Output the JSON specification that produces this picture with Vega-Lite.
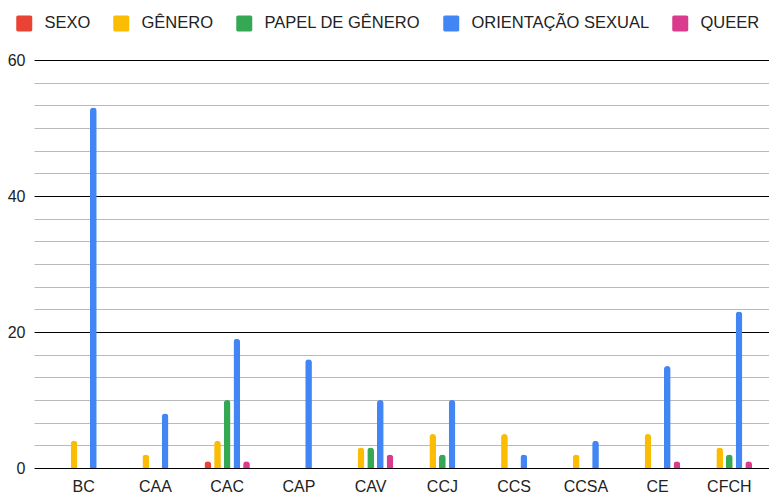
{
  "$schema": "https://vega.github.io/schema/vega-lite/v6.json",
  "autosize": "none",
  "width": 735,
  "height": 408,
  "padding": {"left": 34, "top": 60, "right": 0, "bottom": 28},
  "background": "white",
  "config": {
    "font": "Liberation Sans",
    "view": {"stroke": null}
  },
  "data": {
    "values": [
      {"centro": "BC", "categoria": "GÊNERO", "valor": 4},
      {"centro": "BC", "categoria": "ORIENTAÇÃO SEXUAL", "valor": 53},
      {"centro": "CAA", "categoria": "GÊNERO", "valor": 2},
      {"centro": "CAA", "categoria": "ORIENTAÇÃO SEXUAL", "valor": 8},
      {"centro": "CAC", "categoria": "SEXO", "valor": 1},
      {"centro": "CAC", "categoria": "GÊNERO", "valor": 4},
      {"centro": "CAC", "categoria": "PAPEL DE GÊNERO", "valor": 10},
      {"centro": "CAC", "categoria": "ORIENTAÇÃO SEXUAL", "valor": 19},
      {"centro": "CAC", "categoria": "QUEER", "valor": 1},
      {"centro": "CAP", "categoria": "ORIENTAÇÃO SEXUAL", "valor": 16},
      {"centro": "CAV", "categoria": "GÊNERO", "valor": 3},
      {"centro": "CAV", "categoria": "PAPEL DE GÊNERO", "valor": 3},
      {"centro": "CAV", "categoria": "ORIENTAÇÃO SEXUAL", "valor": 10},
      {"centro": "CAV", "categoria": "QUEER", "valor": 2},
      {"centro": "CCJ", "categoria": "GÊNERO", "valor": 5},
      {"centro": "CCJ", "categoria": "PAPEL DE GÊNERO", "valor": 2},
      {"centro": "CCJ", "categoria": "ORIENTAÇÃO SEXUAL", "valor": 10},
      {"centro": "CCS", "categoria": "GÊNERO", "valor": 5},
      {"centro": "CCS", "categoria": "ORIENTAÇÃO SEXUAL", "valor": 2},
      {"centro": "CCSA", "categoria": "GÊNERO", "valor": 2},
      {"centro": "CCSA", "categoria": "ORIENTAÇÃO SEXUAL", "valor": 4},
      {"centro": "CE", "categoria": "GÊNERO", "valor": 5},
      {"centro": "CE", "categoria": "ORIENTAÇÃO SEXUAL", "valor": 15},
      {"centro": "CE", "categoria": "QUEER", "valor": 1},
      {"centro": "CFCH", "categoria": "GÊNERO", "valor": 3},
      {"centro": "CFCH", "categoria": "PAPEL DE GÊNERO", "valor": 2},
      {"centro": "CFCH", "categoria": "ORIENTAÇÃO SEXUAL", "valor": 23},
      {"centro": "CFCH", "categoria": "QUEER", "valor": 1}
    ]
  },
  "mark": {"type": "bar", "cornerRadiusTopLeft": 3.3, "cornerRadiusTopRight": 3.3},
  "encoding": {
    "x": {
      "field": "centro",
      "type": "nominal",
      "sort": ["BC", "CAA", "CAC", "CAP", "CAV", "CCJ", "CCS", "CCSA", "CE", "CFCH"],
      "scale": {"paddingInner": 0.327, "paddingOuter": 0.356, "range": [0, 745]},
      "axis": {
        "title": null,
        "domain": false,
        "ticks": false,
        "labelAngle": 0,
        "labelFontSize": 16,
        "labelColor": "#222222",
        "labelPadding": 10,
        "labelFont": "Liberation Sans"
      }
    },
    "xOffset": {
      "field": "categoria",
      "type": "nominal",
      "scale": {
        "domain": ["SEXO", "GÊNERO", "PAPEL DE GÊNERO", "ORIENTAÇÃO SEXUAL", "QUEER"],
        "paddingInner": 0.305,
        "paddingOuter": 0.15
      }
    },
    "y": {
      "field": "valor",
      "type": "quantitative",
      "scale": {"domain": [0, 60], "nice": false},
      "axis": {
        "title": null,
        "domain": false,
        "ticks": false,
        "values": [0, 3.3333333, 6.6666667, 10, 13.333333, 16.666667, 20, 23.333333, 26.666667, 30, 33.333333, 36.666667, 40, 43.333333, 46.666667, 50, 53.333333, 56.666667, 60],
        "labelExpr": "abs(datum.value % 20) < 0.01 ? datum.label : ''",
        "labelFontSize": 16,
        "labelColor": "#222222",
        "labelPadding": 9,
        "labelFont": "Liberation Sans",
        "grid": true,
        "gridColor": {"condition": {"test": "abs(datum.value % 20) < 0.01", "value": "#000000"}, "value": "#b9b9b9"},
        "gridWidth": 1,
        "gridOpacity": 1
      }
    },
    "color": {
      "field": "categoria",
      "type": "nominal",
      "scale": {
        "domain": ["SEXO", "GÊNERO", "PAPEL DE GÊNERO", "ORIENTAÇÃO SEXUAL", "QUEER"],
        "range": ["#ea4335", "#fbbc04", "#34a853", "#4285f4", "#db3b8e"]
      },
      "legend": {
        "title": null,
        "orient": "none",
        "direction": "horizontal",
        "columns": 5,
        "legendX": -18,
        "legendY": -45,
        "padding": 0,
        "columnPadding": 22,
        "labelOffset": 12,
        "labelLimit": 400,
        "labelFontSize": 16.5,
        "labelColor": "#222222",
        "labelFont": "Liberation Sans",
        "symbolType": "M -0.8 -1 L 0.8 -1 Q 1 -1 1 -0.8 L 1 0.8 Q 1 1 0.8 1 L -0.8 1 Q -1 1 -1 0.8 L -1 -0.8 Q -1 -1 -0.8 -1 Z",
        "symbolSize": 256,
        "symbolStrokeWidth": 0,
        "symbolOpacity": 1
      }
    }
  }
}
